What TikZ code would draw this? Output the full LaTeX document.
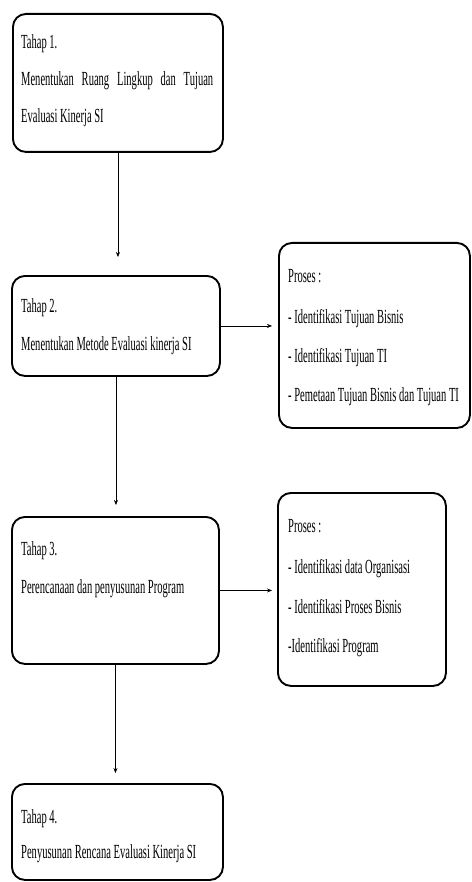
\documentclass[tikz,border=0pt]{standalone}
\usepackage{fontspec}
\setmainfont{Liberation Serif}[FakeStretch=0.527]
\usetikzlibrary{arrows.meta}
\tikzset{
  stagebox/.style={draw=black, line width=1.9pt, rounded corners=13pt, inner sep=0pt},
  txt/.style={anchor=base west, inner sep=0pt, font=\fontsize{20}{24}\selectfont},
  conn/.style={draw=black, line width=0.6pt, -{Stealth[length=5pt,width=4pt]}}
}
\newcommand{\bx}[5]{\node[stagebox, anchor=north west, minimum width=#3pt-#1pt, minimum height=#4pt-#2pt] (#5) at (#1,#2) {};}
\begin{document}
\begin{tikzpicture}[x=1pt,y=-1pt]
\useasboundingbox (0,0) rectangle (471,882);
% boxes
\bx{12}{13}{222}{151}{b1}
\bx{11}{275}{219}{375}{b2}
\bx{11}{516}{218}{663}{b3}
\bx{11}{783}{222}{879}{b4}
\bx{278}{242}{469}{427}{r1}
\bx{277}{492}{445}{685}{r2}
% texts box 1
\node[txt] (t1a) at (21,49) {Tahap 1.};
\node[txt] (t1b) at (21,86) {\makebox[192pt][s]{Menentukan Ruang Lingkup dan Tujuan}};
\node[txt] (t1c) at (21,123) {Evaluasi Kinerja SI};
% box 2
\node[txt] (t2a) at (21,312) {Tahap 2.};
\node[txt] (t2b) at (21,350) {Menentukan Metode Evaluasi kinerja SI};
% box 3
\node[txt] (t3a) at (21,555) {Tahap 3.};
\node[txt] (t3b) at (21,593) {Perencanaan dan penyusunan Program};
% box 4
\node[txt] (t4a) at (21,823) {Tahap 4.};
\node[txt] (t4b) at (21,858) {Penyusunan Rencana Evaluasi Kinerja SI};
% right 1
\node[txt] (p1a) at (288,283) {Proses :};
\node[txt] (p1b) at (288,323) {- Identifikasi Tujuan Bisnis};
\node[txt] (p1c) at (288,362) {- Identifikasi Tujuan TI};
\node[txt] (p1d) at (288,401) {- Pemetaan Tujuan Bisnis dan Tujuan TI};
% right 2
\node[txt] (p2a) at (288,532) {Proses :};
\node[txt] (p2b) at (288,573) {- Identifikasi data Organisasi};
\node[txt] (p2c) at (288,613) {- Identifikasi Proses Bisnis};
\node[txt] (p2d) at (288,652) {-Identifikasi Program};
% connectors
\draw[conn, shorten >=18pt] (b1.south) -- (b1.south |- b2.north);
\draw[conn, shorten >=11pt] (b2.south) -- (b2.south |- b3.north);
\draw[conn, shorten >=10pt] (b3.south) -- (b3.south |- b4.north);
\draw[conn, shorten >=6pt] (b2.east) -- (b2.east -| r1.west);
\draw[conn, shorten >=5pt] (b3.east) -- (b3.east -| r2.west);
\end{tikzpicture}
\end{document}
